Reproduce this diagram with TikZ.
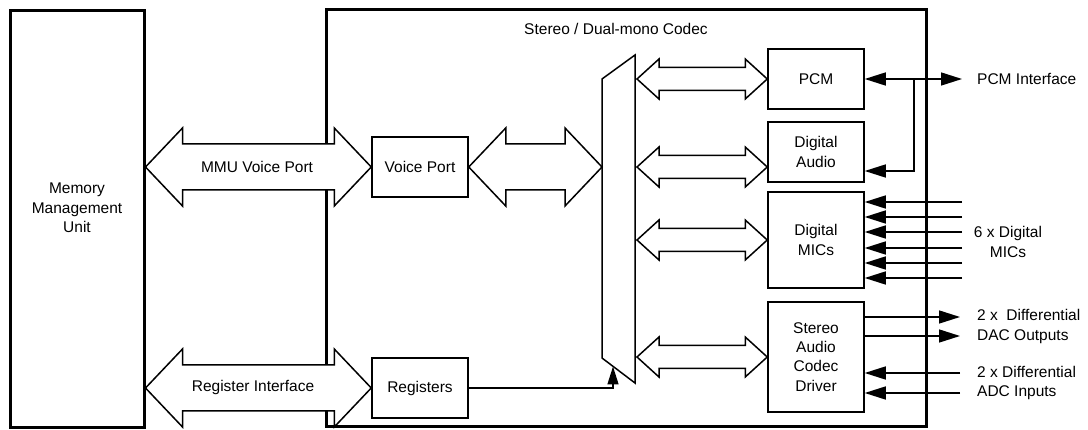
\documentclass[tikz,border=0pt]{standalone}
\usepackage{fontspec}
\setmainfont{Liberation Sans}
\usetikzlibrary{arrows.meta,calc}
\newcommand\fatarrow[5]{%
  \draw[fat] let \p1=(#1), \p2=(#2) in
    (\x1,\y1) -- (\x1+#3pt,\y1+#4pt) -- (\x1+#3pt,\y1+#5pt) -- (\x2-#3pt,\y1+#5pt)
    -- (\x2-#3pt,\y1+#4pt) -- (\x2,\y1) -- (\x2-#3pt,\y1-#4pt) -- (\x2-#3pt,\y1-#5pt)
    -- (\x1+#3pt,\y1-#5pt) -- (\x1+#3pt,\y1-#4pt) -- cycle;}
\begin{document}
\begin{tikzpicture}[x=1pt,y=-1pt,font=\fontsize{15.5}{19.3}\selectfont]
\tikzset{
  outerbox/.style={draw, line width=3pt, inner sep=0pt},
  block/.style={draw, line width=1.5pt, inner sep=0pt, minimum width=96pt, align=center},
  lbl/.style={inner sep=0pt, align=center},
  conn/.style={line width=1.5pt},
  tip/.style={-{Triangle[length=21pt,width=13pt]}},
  fat/.style={draw, line width=1.5pt, fill=white, line join=miter},
}
\useasboundingbox (0,0) rectangle (1088,430);
% outer boxes
\node[outerbox, minimum width=134pt, minimum height=417pt] (mmu) at (77,219) {};
\node[lbl] (mmutxt) at (77,208) {Memory\\Management\\Unit};
\node[outerbox, minimum width=600pt, minimum height=417pt] (codec) at (626,218.5) {};
\node[lbl] (title) at (616,29) {Stereo / Dual-mono Codec};
% blocks
\node[block, minimum height=60pt] (vp) at (420,167) {Voice Port};
\node[block, minimum height=60pt] (reg) at (420,388) {Registers};
\node[block, minimum height=60pt] (pcm) at (816,79) {PCM};
\node[block, minimum height=60pt] (da) at (816,152) {Digital\\Audio};
\node[block, minimum height=96pt] (dm) at (816,240) {Digital\\MICs};
\node[block, minimum height=110pt] (sacd) at (816,357) {Stereo\\Audio\\Codec\\Driver};
% mux
\coordinate (m1) at (602,79);
\coordinate (m2) at (635,55);
\coordinate (m3) at (635,383);
\coordinate (m4) at (602,358);
\draw[conn, line join=miter] (m1) -- (m2) -- (m3) -- (m4) -- cycle;
% fat arrows
\coordinate (mmuA) at (mmu.east |- vp.west);
\coordinate (mmuB) at (mmu.east |- reg.west);
\coordinate (muxL) at (m1 |- vp.west);
\fatarrow{mmuA}{vp.west}{37}{39}{23}
\fatarrow{mmuB}{reg.west}{37}{39}{23}
\fatarrow{vp.east}{muxL}{37}{39}{23}
\coordinate (r1a) at ($(m2 |- pcm.west)+(2,0)$);
\coordinate (r2a) at ($(m2 |- da.west)+(2,15)$);
\coordinate (r2b) at ($(da.west)+(0,15)$);
\coordinate (r3a) at ($(m2 |- dm.west)+(2,0)$);
\coordinate (r4a) at ($(m2 |- sacd.west)+(2,0)$);
\fatarrow{r1a}{pcm.west}{22}{20}{11.5}
\fatarrow{r2a}{r2b}{22}{20}{11.5}
\fatarrow{r3a}{dm.west}{22}{20}{11.5}
\fatarrow{r4a}{sacd.west}{22}{20}{11.5}
\node[lbl] (mmuvp) at (257,167) {MMU Voice Port};
\node[lbl] (regif) at (253,387) {Register Interface};
% registers to mux
\coordinate (regc) at (613,388);
\coordinate (regt) at (613,366.5);
\draw[conn, -{Triangle[length=18pt,width=11pt]}] (reg.east) -- (regc) -- (regt);
% PCM interface
\coordinate (pcmif) at (962,79);
\draw[conn, {Triangle[length=21pt,width=13pt]}-{Triangle[length=21pt,width=13pt]}] (pcm.east) -- (pcmif);
\coordinate (br) at (914,79);
\coordinate (brd) at (914,171);
\draw[conn, tip] (br) -- (brd) -- (da.east |- brd);
\node[lbl, anchor=west] (pcmtxt) at (977,79) {PCM Interface};
% digital mics
\foreach \yy [count=\i] in {202,217,232,248,263,278} {
  \coordinate (mic\i) at (962,\yy);
  \draw[conn, tip] (mic\i) -- (dm.east |- mic\i);
}
\node[lbl] (mictxt) at (1008,242) {6 x Digital\\MICs};
% DAC / ADC
\coordinate (dac1) at (960,317);
\coordinate (dac2) at (960,336);
\coordinate (adc1) at (960,373);
\coordinate (adc2) at (960,393);
\draw[conn, tip] (sacd.east |- dac1) -- (dac1);
\draw[conn, tip] (sacd.east |- dac2) -- (dac2);
\draw[conn, tip] (adc1) -- (sacd.east |- adc1);
\draw[conn, tip] (adc2) -- (sacd.east |- adc2);
\node[lbl, align=left, anchor=west] (dactxt) at (977,326.5) {2 x\ \ Differential\\DAC Outputs};
\node[lbl, align=left, anchor=west] (adctxt) at (977,383) {2 x Differential\\ADC Inputs};
\end{tikzpicture}
\end{document}
